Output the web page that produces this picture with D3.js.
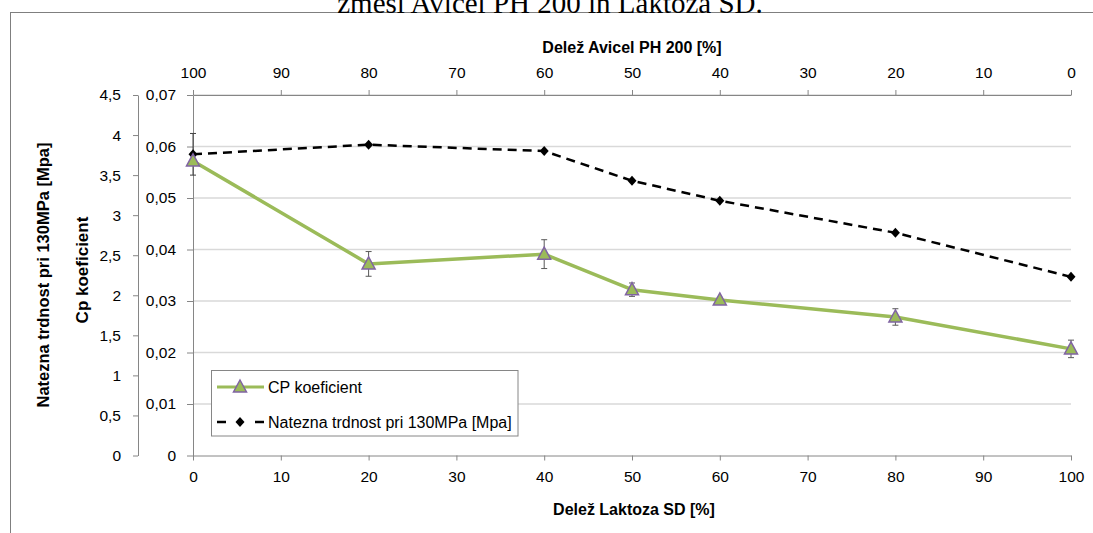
<!DOCTYPE html>
<html>
<head>
<meta charset="utf-8">
<script src="https://cdn.jsdelivr.net/npm/d3@7"></script>
<style>
  html, body { margin: 0; padding: 0; background: #fff; }
  svg { display: block; }
  text { font-family: "Liberation Sans", Arial, sans-serif; fill: #000; }
</style>
</head>
<body>
<svg id="chart" width="1093" height="533"></svg>
<script>
// ---- data ----
const laktoza = [0, 20, 40, 50, 60, 80, 100];          // bottom axis (Delež Laktoza SD)
const cpValues = [0.0572, 0.0372, 0.0391, 0.0322, 0.0302, 0.0269, 0.0207];
const cpErrors = [0, 0.0024, 0.0028, 0.0013, 0.0005, 0.0016, 0.0017];
const tensileValues = [3.76, 3.88, 3.80, 3.43, 3.18, 2.78, 2.23];
const tensileErrors = [0.26, 0, 0, 0, 0, 0, 0];
const bottomTicks = [0, 10, 20, 30, 40, 50, 60, 70, 80, 90, 100];
const topTicks = [100, 90, 80, 70, 60, 50, 40, 30, 20, 10, 0];
const cpTicks = [0, 0.01, 0.02, 0.03, 0.04, 0.05, 0.06, 0.07];
const tensileTicks = [0, 0.5, 1, 1.5, 2, 2.5, 3, 3.5, 4, 4.5];
const titleText = "zmesi Avicel PH 200 in Laktoza SD.";
const seriesNames = ["CP koeficient", "Natezna trdnost pri 130MPa [Mpa]"];

// ---- layout ----
const svg = d3.select("#chart");
const L = 193, R = 1071, T = 95, B = 455.5;
const x = d3.scaleLinear().domain([0, 100]).range([L, R]);
const xTop = d3.scaleLinear().domain([100, 0]).range([L, R]);
const yCp = d3.scaleLinear().domain([0, 0.07]).range([B, T]);
const yT = d3.scaleLinear().domain([0, 4.5]).range([B, T]);

const loc = d3.formatLocale({decimal: ",", thousands: ".", grouping: [3], currency: ["", ""]});
const fCp = d => d === 0 ? "0" : loc.format(".2f")(d);
const fT = d => loc.format(".1~f")(d);

const axisColor = "#868686";
const gridColor = "#d9d9d9";

// outer chart border
svg.append("rect").attr("x", 10.5).attr("y", 12.5).attr("width", 1100).attr("height", 600)
  .attr("fill", "none").attr("stroke", "#7f7f7f").attr("stroke-width", 1);

// clipped title
svg.append("text").attr("x", 550).attr("y", 13).attr("text-anchor", "middle")
  .style("font-family", "'Liberation Serif', 'Times New Roman', serif").style("font-size", "29px")
  .text(titleText);

// gridlines
svg.append("g").selectAll("line").data(cpTicks.filter(d => d > 0)).join("line")
  .attr("x1", L).attr("x2", R).attr("y1", d => yCp(d)).attr("y2", d => yCp(d))
  .attr("stroke", gridColor).attr("stroke-width", 1.5);

function styleAxis(g, size) {
  g.selectAll(".domain").attr("stroke", axisColor);
  g.selectAll(".tick line").attr("stroke", axisColor);
  g.selectAll("text").style("font-size", size).attr("fill", "#000");
}

// bottom axis
svg.append("g").attr("transform", `translate(0,${B})`)
  .call(d3.axisBottom(x).tickValues(bottomTicks).tickSize(5).tickSizeOuter(0).tickPadding(10).tickFormat(d3.format("d")))
  .call(g => styleAxis(g, "15.5px"));
// top axis
svg.append("g").attr("transform", `translate(0,${T})`)
  .call(d3.axisTop(xTop).tickValues(topTicks).tickSize(5).tickSizeOuter(0).tickPadding(12).tickFormat(d3.format("d")))
  .call(g => styleAxis(g, "15.5px"));
// inner left axis (Cp)
svg.append("g").attr("transform", `translate(${L},0)`)
  .call(d3.axisLeft(yCp).tickValues(cpTicks).tickSize(6).tickSizeOuter(0).tickPadding(11).tickFormat(fCp))
  .call(g => styleAxis(g, "15.5px"));
// outer left axis (tensile)
svg.append("g").attr("transform", `translate(138,0)`)
  .call(d3.axisLeft(yT).tickValues(tensileTicks).tickSize(5).tickSizeOuter(0).tickPadding(12).tickFormat(fT))
  .call(g => styleAxis(g, "15.5px"));

// axis titles
svg.append("text").attr("x", 632).attr("y", 53).attr("text-anchor", "middle")
  .style("font-size", "16px").style("font-weight", "bold").text("Delež Avicel PH 200 [%]");
svg.append("text").attr("x", 634).attr("y", 515).attr("text-anchor", "middle")
  .style("font-size", "16px").style("font-weight", "bold").text("Delež Laktoza SD [%]");
svg.append("text").attr("transform", "translate(49,275) rotate(-90)").attr("text-anchor", "middle")
  .style("font-size", "16.5px").style("font-weight", "bold").text("Natezna trdnost pri 130MPa [Mpa]");
svg.append("text").attr("transform", "translate(88,270) rotate(-90)").attr("text-anchor", "middle")
  .style("font-size", "17px").style("font-weight", "bold").text("Cp koeficient");

// data tables
const cpData = laktoza.map((k, i) => ({k, v: cpValues[i], e: cpErrors[i]}));
const tData = laktoza.map((k, i) => ({k, v: tensileValues[i], e: tensileErrors[i]}));

function errorBars(data, y, color) {
  const g = svg.append("g").attr("stroke", color).attr("stroke-width", 1);
  data.filter(d => d.e > 0).forEach(d => {
    const cx = x(d.k), y1 = y(d.v + d.e), y2 = y(d.v - d.e);
    g.append("line").attr("x1", cx).attr("x2", cx).attr("y1", y1).attr("y2", y2);
    g.append("line").attr("x1", cx - 3).attr("x2", cx + 3).attr("y1", y1).attr("y2", y1);
    g.append("line").attr("x1", cx - 3).attr("x2", cx + 3).attr("y1", y2).attr("y2", y2);
  });
}
errorBars(tData, yT, "#404040");
errorBars(cpData, yCp, "#595959");

const triPath = "M0,-7L6.5,5L-6.5,5Z";
const diaPath = "M0,-5L4.5,0L0,5L-4.5,0Z";

// Cp series
svg.append("path").datum(cpData)
  .attr("d", d3.line().x(d => x(d.k)).y(d => yCp(d.v)))
  .attr("fill", "none").attr("stroke", "#9bbb59").attr("stroke-width", 3.5).attr("stroke-linejoin", "round");
// Tensile series
svg.append("path").datum(tData)
  .attr("d", d3.line().x(d => x(d.k)).y(d => yT(d.v)))
  .attr("fill", "none").attr("stroke", "#000").attr("stroke-width", 2.5).attr("stroke-dasharray", "9,6");

svg.append("g").selectAll("path").data(tData).join("path")
  .attr("d", diaPath).attr("transform", d => `translate(${x(d.k)},${yT(d.v)})`).attr("fill", "#000");
svg.append("g").selectAll("path").data(cpData).join("path")
  .attr("d", triPath).attr("transform", d => `translate(${x(d.k)},${yCp(d.v)})`)
  .attr("fill", "#9bbb59").attr("stroke", "#8064a2").attr("stroke-width", 1.5);

// legend
const lg = svg.append("g");
lg.append("rect").attr("x", 211.5).attr("y", 370.5).attr("width", 306.5).attr("height", 65.5)
  .attr("fill", "#fff").attr("stroke", "#868686");
lg.append("line").attr("x1", 217).attr("x2", 264).attr("y1", 387).attr("y2", 387)
  .attr("stroke", "#9bbb59").attr("stroke-width", 3);
lg.append("path").attr("d", triPath).attr("transform", "translate(240,387)")
  .attr("fill", "#9bbb59").attr("stroke", "#8064a2").attr("stroke-width", 1.5);
lg.append("text").attr("x", 268).attr("y", 392.5).style("font-size", "16px").text(seriesNames[0]);
lg.append("line").attr("x1", 217).attr("x2", 264).attr("y1", 422).attr("y2", 422)
  .attr("stroke", "#000").attr("stroke-width", 2.5).attr("stroke-dasharray", "9,29");
lg.append("path").attr("d", diaPath).attr("transform", "translate(240,422)").attr("fill", "#000");
lg.append("text").attr("x", 268).attr("y", 427.5).style("font-size", "16px").text(seriesNames[1]);
</script>
</body>
</html>
